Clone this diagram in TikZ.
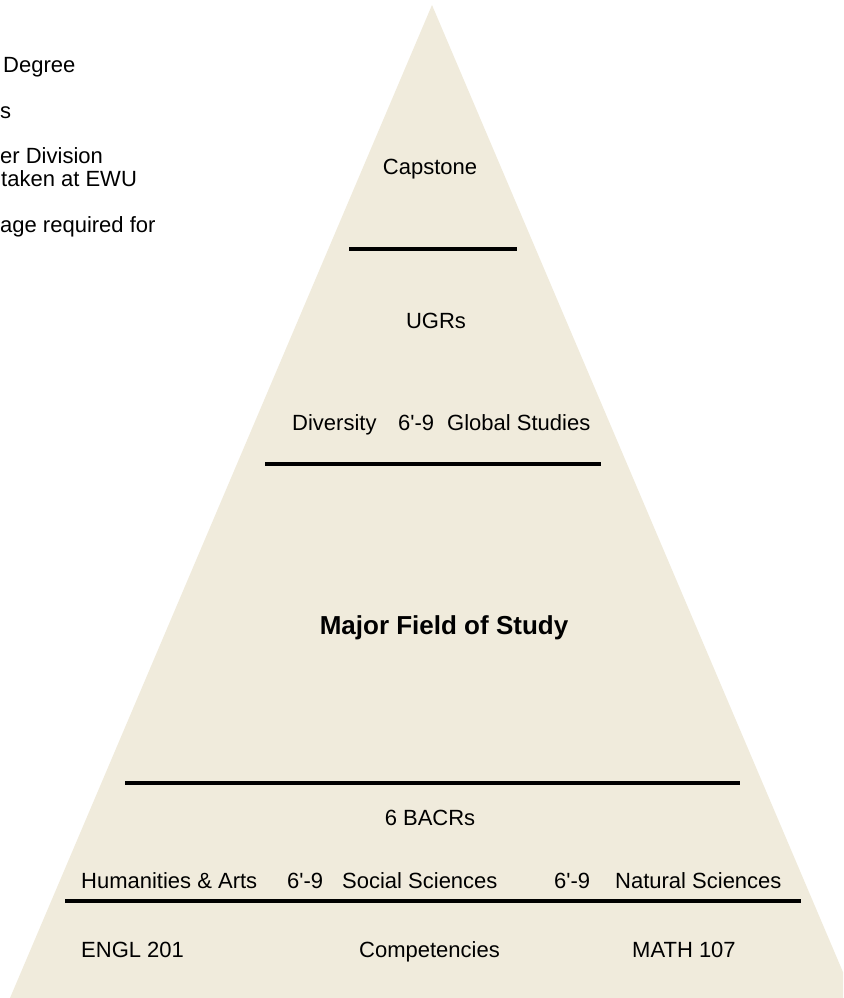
\documentclass[tikz,border=0pt]{standalone}
\usepackage{fontspec}
\setmainfont{Liberation Sans}
\usetikzlibrary{positioning}
\definecolor{sand}{RGB}{240,235,220}

\begin{document}
\begin{tikzpicture}[x=1pt,y=-1pt,
  lbl/.style={inner sep=0pt,font=\fontsize{22}{26}\selectfont},
  bar/.style={line width=4pt}]
\useasboundingbox (0,0) rectangle (843,998);
\clip (0,0) rectangle (843,998);
\fill [sand] (432,5) -- (854,998) -- (10,998) -- cycle;

% notes cut off at the left edge
\node [lbl,anchor=base west] (deg) at (3,72) {Degree};
\node [lbl,anchor=base west] (ess) at (0,118) {s};
\node [lbl,anchor=base west] (div) at (0,163) {er Division};
\node [lbl,anchor=base west] (ewu) at (1,186) {taken at EWU};
\node [lbl,anchor=base west] (lang) at (0,232) {age required for};

% top
\node [lbl,anchor=base] (cap) at (430,174) {Capstone};
\draw [bar] (349,249) -- (517,249);

% UGRs
\node [lbl,anchor=base] (ugr) at (436,328) {UGRs};
\node [lbl,anchor=base west] (divy) at (292,430) {Diversity};
\node [lbl,anchor=base west] (u69) at (398,430) {6\textquotesingle-9};
\node [lbl,anchor=base west] (glob) at (447,430) {Global Studies};
\draw [bar] (265,464) -- (601,464);

% major
\node [lbl,anchor=base,font=\fontsize{26}{30}\selectfont\bfseries] (major) at (444,634) {Major Field of Study};
\draw [bar] (125,783) -- (740,783);

% BACRs
\node [lbl,anchor=base] (bacr) at (430,825) {6 BACRs};
\node [lbl,anchor=base west] (hum) at (81,888) {Humanities \& Arts};
\node [lbl,anchor=base west] (b69a) at (287,888) {6\textquotesingle-9};
\node [lbl,anchor=base west] (soc) at (342,888) {Social Sciences};
\node [lbl,anchor=base west] (b69b) at (554,888) {6\textquotesingle-9};
\node [lbl,anchor=base west] (nat) at (615,888) {Natural Sciences};
\draw [bar] (65,901) -- (801,901);

% competencies
\node [lbl,anchor=base west] (engl) at (81,957) {ENGL 201};
\node [lbl,anchor=base west] (comp) at (359,957) {Competencies};
\node [lbl,anchor=base west] (math) at (632,957) {MATH 107};
\end{tikzpicture}
\end{document}
